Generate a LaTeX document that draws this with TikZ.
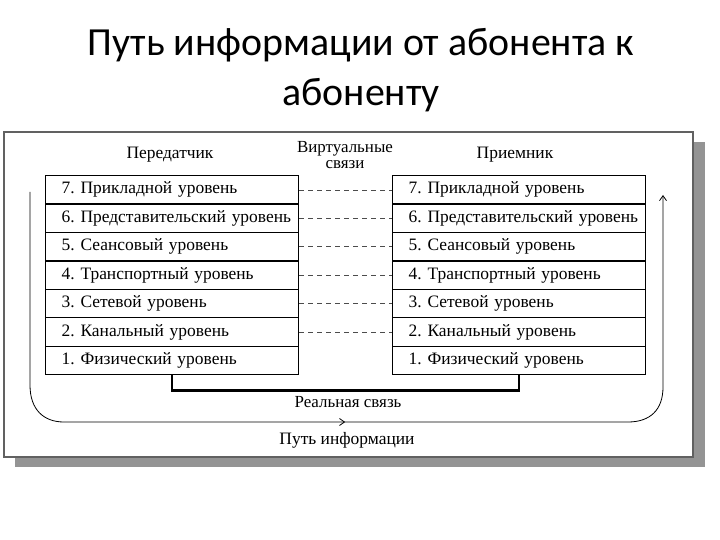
\documentclass[tikz,border=0pt]{standalone}
\usepackage{fontspec}
\setmainfont{Liberation Serif}
\newfontfamily\titlefont{Carlito}
\usetikzlibrary{arrows.meta,decorations.markings}
\frenchspacing
\tikzset{
  layerbox/.style={draw, line width=1.3bp, minimum height=28.43bp, text width=253bp,
    inner xsep=0pt, inner ysep=0pt, align=left, anchor=north west, font=\fontsize{17.5}{19}\selectfont},
  headtext/.style={font=\fontsize{17.5}{17}\selectfont, inner sep=1pt, align=center},
  virtline/.style={dashed, line width=0.7bp, dash pattern=on 5bp off 4bp, black!70},
}
\begin{document}
\begin{tikzpicture}[x=1bp, y=-1bp, line width=0.8bp]
  \useasboundingbox (0,0) rectangle (720,540);
  % title
  \node[font=\titlefont\fontsize{40}{50}\selectfont, align=center, inner sep=0pt] (title) at (361,70)
    {Путь информации от абонента к\\абоненту};
  % frame with shadow
  \fill[black!42] (15,142) rectangle (705,467);
  \draw[fill=white, draw=black!62, line width=2.6bp] (4,132) rectangle (693,457);
  % headings
  \node[headtext] (sender) at (170,155) {Передатчик};
  \node[headtext] (receiver) at (515,155) {Приемник};
  \node[headtext, font=\fontsize{17}{16}\selectfont] (virtual) at (345,155) {Виртуальные\\связи};
  % layers
  \foreach \i/\name in {7/Прикладной, 6/Представительский, 5/Сеансовый, 4/Транспортный,
                        3/Сетевой, 2/Канальный, 1/Физический} {
    \node[layerbox] (L\i) at (45,{175+(7-\i)*28.43}) {\mbox{\hspace*{16bp}\i. \name{} уровень}};
    \node[layerbox] (R\i) at (392,{175+(7-\i)*28.43}) {\mbox{\hspace*{16bp}\i. \name{} уровень}};
  }
  \foreach \i in {7,...,2}
    \draw[virtline] (L\i.east) -- (R\i.west);
  % real link
  \draw[line width=2.6bp] (L1.south) -- ++(0,15) coordinate (rl) -| (R1.south);
  \node[headtext, font=\fontsize{17}{16}\selectfont] (reallabel) at (348,402) {Реальная связь};
  % information path
  \coordinate (pstart) at (30,192);
  \coordinate (pend) at (663,195);
  \draw[-{Straight Barb[length=5bp,width=7bp]}, postaction={decorate},
        decoration={markings, mark=at position 0.5 with {\arrow{Straight Barb[length=5bp,width=7bp]}}}]
    (pstart) -- (30,385) .. controls (30,410) and (44,422) .. (64,422)
    -- (628,422) .. controls (650,422) and (663,410) .. (663,387) -- (pend);
  \node[headtext] (pathlabel) at (347,440) {Путь информации};
\end{tikzpicture}
\end{document}
